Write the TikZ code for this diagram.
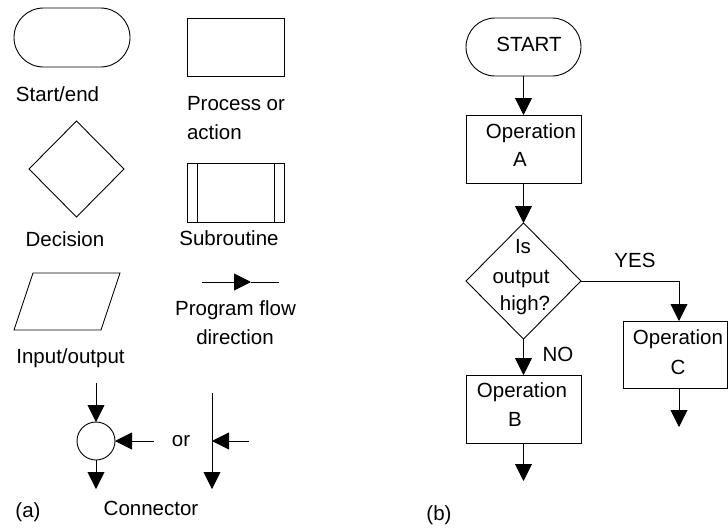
\documentclass[tikz,border=0pt]{standalone}
\usepackage{fontspec}
\setmainfont{Liberation Sans}
\usetikzlibrary{arrows.meta,shapes.geometric,shapes.misc}
\begin{document}
\begin{tikzpicture}[x=1pt,y=-1pt,line width=0.9pt,
  every node/.style={inner sep=0pt,outer sep=0pt},
  txt/.style={font=\fontsize{20.5}{24}\selectfont},
  term/.style={draw,rounded rectangle,minimum width=#1,minimum height=58},
  boxs/.style={draw,rectangle},
  dia/.style={draw,diamond},
  flow/.style={-{Triangle[length=17pt,width=17pt]}}]
\useasboundingbox (0,0) rectangle (728,531);

% ---------- (a) legend ----------
\node[term=116,minimum height=59] (se) at (72,37.5) {};
\node[txt] (lse) at (57.5,94) {Start/end};
\node[boxs,minimum width=97,minimum height=58] (proc) at (235.5,47) {};
\node[txt,anchor=west] (lp1) at (187,104) {Process or};
\node[txt,anchor=west] (lp2) at (187,132) {action};
\node[dia,minimum width=95,minimum height=96] (dec) at (76.5,169) {};
\node[txt] (ldec) at (65,239) {Decision};
\node[boxs,minimum width=97,minimum height=59] (sub) at (235.5,192.5) {};
\draw ([xshift=10]sub.north west) -- ([xshift=10]sub.south west);
\draw ([xshift=-10]sub.north east) -- ([xshift=-10]sub.south east);
\node[txt] (lsub) at (229,238) {Subroutine};
\coordinate (io1) at (33,273);
\coordinate (io2) at (120,273);
\coordinate (io3) at (101,330);
\coordinate (io4) at (14,330);
\draw (io1) -- (io2) -- (io3) -- (io4) -- cycle;
\node[txt] (lio) at (70.5,358) {Input/output};
\coordinate (fa1) at (202,282);
\coordinate (fat) at (251,282);
\coordinate (fa2) at (279,282);
\draw[flow] (fa1) -- (fat);
\draw (fat) -- (fa2);
\node[txt] (lf1) at (235.5,310) {Program flow};
\node[txt] (lf2) at (235,337) {direction};
\node[draw,circle,minimum size=38] (conn) at (96,441) {};
\coordinate (ct) at (96,383);
\coordinate (cr) at (154,441);
\coordinate (cb) at (96,489);
\draw[flow] (ct) -- (conn.north);
\draw[flow] (cr) -- (conn.east);
\draw[flow] (conn.south) -- (cb);
\node[txt] (lor) at (181,441) {or};
\coordinate (vt) at (212,393);
\coordinate (vb) at (212,489);
\coordinate (vm) at (212,441);
\coordinate (vr) at (249,441);
\draw[flow] (vt) -- (vb);
\draw[flow] (vr) -- (vm);
\node[txt] (lconn) at (151,508) {Connector};
\node[txt] (la) at (28,512) {(a)};

% ---------- (b) flowchart ----------
\node[term=115] (start) at (523.5,47) {};
\node[txt] (lstart) at (529,44) {START};
\node[boxs,minimum width=115,minimum height=68] (opA) at (523.5,149) {};
\node[txt] (lA1) at (531,133) {Operation};
\node[txt] (lA2) at (520,159) {A};
\node[dia,minimum width=115,minimum height=116] (q) at (523.5,281) {};
\node[txt] (lq1) at (523,247) {Is};
\node[txt] (lq2) at (521,279) {output};
\node[txt] (lq3) at (525,305) {high?};
\node[boxs,minimum width=115,minimum height=68] (opB) at (523.5,409) {};
\node[txt] (lB1) at (522,392) {Operation};
\node[txt] (lB2) at (515,419) {B};
\node[boxs,minimum width=104,minimum height=67] (opC) at (675,354.5) {};
\node[txt] (lC1) at (678,339) {Operation};
\node[txt] (lC2) at (678,367) {C};
\coordinate (cin) at (679,321);
\coordinate (cout) at (679,388);
\coordinate (cend) at (679,427);
\coordinate (bend) at (523.5,481);
\draw[flow] (start.south) -- (opA.north);
\draw[flow] (opA.south) -- (q.north);
\draw[flow] (q.south) -- (opB.north);
\draw[flow] (q.east) -| (cin);
\draw[flow] (cout) -- (cend);
\draw[flow] (opB.south) -- (bend);
\node[txt] (lyes) at (635,260) {YES};
\node[txt] (lno) at (558,354) {NO};
\node[txt] (lb) at (439,515) {(b)};
\end{tikzpicture}
\end{document}
